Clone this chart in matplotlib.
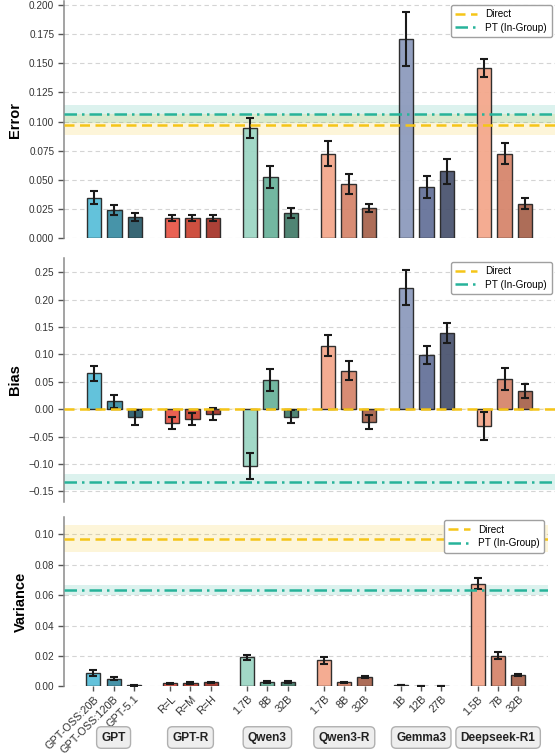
import matplotlib
matplotlib.use("Agg")
import matplotlib.pyplot as plt
import numpy as np
from matplotlib.ticker import FormatStrFormatter, MultipleLocator
from matplotlib.transforms import blended_transform_factory

plt.rcParams['font.family'] = ['Liberation Sans', 'DejaVu Sans']
plt.rcParams['axes.unicode_minus'] = True

# ---- data -------------------------------------------------------------
groups = ["GPT", "GPT-R", "Qwen3", "Qwen3-R", "Gemma3", "Deepseek-R1"]
model_labels = [
    ["GPT-OSS:20B", "GPT-OSS:120B", "GPT-5.1"],
    ["R=L", "R=M", "R=H"],
    ["1.7B", "8B", "32B"],
    ["1.7B", "8B", "32B"],
    ["1B", "12B", "27B"],
    ["1.5B", "7B", "32B"],
]
group_colors = [
    ["#5bbfd9", "#3d8ea5", "#2d5f6e"],
    ["#e8584a", "#cc4636", "#a8372c"],
    ["#9dd6c4", "#6bb39c", "#467e6c"],
    ["#f4a88c", "#d6866d", "#a9654f"],
    ["#8d9bbd", "#66739a", "#4c5571"],
    ["#f4a88c", "#d6866d", "#a9654f"],
]

error_mean = [0.0345, 0.0241, 0.0180, 0.0175, 0.0169, 0.0169,
              0.0943, 0.0524, 0.0218, 0.0725, 0.0464, 0.0258,
              0.1710, 0.0438, 0.0573, 0.1458, 0.0725, 0.0295]
error_err = [0.0055, 0.0040, 0.0037, 0.0026, 0.0026, 0.0026,
             0.0086, 0.0095, 0.0043, 0.0106, 0.0083, 0.0036,
             0.0230, 0.0097, 0.0105, 0.0079, 0.0090, 0.0046]

bias_mean = [0.0657, 0.0146, -0.0152, -0.0255, -0.0188, -0.0097,
             -0.1046, 0.0540, -0.0140, 0.1160, 0.0705, -0.0230,
             0.2219, 0.0997, 0.1390, -0.0304, 0.0553, 0.0334]
bias_err = [0.0137, 0.0120, 0.0134, 0.0115, 0.0110, 0.0110,
            0.0237, 0.0200, 0.0120, 0.0190, 0.0180, 0.0128,
            0.0320, 0.0164, 0.0180, 0.0260, 0.0207, 0.0134]

var_mean = [0.0090, 0.0050, 0.0007, 0.0020, 0.0022, 0.0026,
            0.0190, 0.0028, 0.0030, 0.0172, 0.0026, 0.0059,
            0.0007, 0.0004, 0.0002, 0.0675, 0.0201, 0.0072]
var_err = [0.0020, 0.0010, 0.0002, 0.0004, 0.0004, 0.0004,
           0.0019, 0.0008, 0.0007, 0.0024, 0.0004, 0.0006,
           0.0001, 0.0001, 0.0001, 0.0038, 0.0023, 0.0007]

# reference baselines: (mean, half-width of band)
direct_ref = {"Error": (0.0974, 0.0089), "Bias": (0.0, 0.0015), "Variance": (0.0972, 0.0087)}
pt_ref = {"Error": (0.1063, 0.0077), "Bias": (-0.1331, 0.0152), "Variance": (0.0633, 0.0035)}

# ---- layout -----------------------------------------------------------
W, H = 557, 754
fig = plt.figure(figsize=(W / 100, H / 100), dpi=100)

def box(l, t, r, b):
    return [l / W, 1 - b / H, (r - l) / W, (b - t) / H]

ax_err = fig.add_axes(box(64, 1, 555, 238))
ax_bias = fig.add_axes(box(64, 258, 555, 501.7))
ax_var = fig.add_axes(box(64, 516.7, 547.7, 686.3))

group_step = 3.8
positions = []
for g in range(len(groups)):
    for i in range(3):
        positions.append(g * group_step + (i - 1))
positions = np.array(positions)
flat_colors = [c for cs in group_colors for c in cs]
flat_labels = [m for ms in model_labels for m in ms]

DIRECT_C = "#f5c518"
PT_C = "#27b39a"

panels = [
    (ax_err, "Error", error_mean, error_err, (0, 0.2036), 0.025, "%.3f"),
    (ax_bias, "Bias", bias_mean, bias_err, (-0.169, 0.276), 0.05, "%.2f"),
    (ax_var, "Variance", var_mean, var_err, (0, 0.1116), 0.02, "%.2f"),
]

for ax, name, mean, err, ylim, step, fmt in panels:
    ax.bar(positions, mean, width=0.7, color=flat_colors, alpha=0.95,
           edgecolor=(0.15, 0.15, 0.15, 0.75), linewidth=1.0, zorder=3)
    ax.errorbar(positions, mean, yerr=err, fmt="none", ecolor="#1a1a1a",
                elinewidth=1.5, capsize=3.2, capthick=1.5, zorder=4)

    dm, dw = direct_ref[name]
    pm, pw = pt_ref[name]
    ax.axhspan(dm - dw, dm + dw, color=DIRECT_C, alpha=0.16, lw=0, zorder=1)
    ax.axhspan(pm - pw, pm + pw, color=PT_C, alpha=0.16, lw=0, zorder=1)
    ax.axhline(dm, color=DIRECT_C, ls=(0, (4, 2.2)), lw=1.8, zorder=5, label="Direct")
    ax.axhline(pm, color=PT_C, ls=(0, (5, 2, 1, 2)), lw=1.8, zorder=5, label="PT (In-Group)")

    ax.set_xlim(-2.45, (len(groups) - 1) * group_step + 2.45)
    ax.set_ylim(*ylim)
    ax.yaxis.set_major_locator(MultipleLocator(step))
    ax.yaxis.set_major_formatter(FormatStrFormatter(fmt))
    ax.grid(axis="y", ls=(0, (4, 3)), color="#d4d4d4", lw=0.8, zorder=0)
    ax.set_axisbelow(True)
    for s in ["top", "right", "bottom"]:
        ax.spines[s].set_visible(False)
    ax.spines["left"].set_color("#8a8a8a")
    ax.spines["left"].set_linewidth(1.1)
    ax.tick_params(axis="y", labelsize=7.2, colors="#333333", length=4, width=1,
                   color="#555555", pad=3)
    ax.set_ylabel(name, fontsize=10.5, fontweight="bold", labelpad=5)

    leg = ax.legend(loc="upper right", fontsize=7.2, frameon=True, fancybox=True,
                    framealpha=1, edgecolor="#a0a0a0", handlelength=2.2,
                    borderaxespad=0.35, borderpad=0.45, labelspacing=0.35)
    leg.get_frame().set_linewidth(1.0)

ax_err.set_xticks([])
ax_bias.set_xticks([])
bias_ticks = np.arange(-0.15, 0.2501, 0.05)
ax_bias.set_yticks(bias_ticks)
ax_bias.set_yticklabels([("%.2f" % (v + 0.0)).replace("-0.00", "0.00").replace("-", "\u2212")
                         for v in bias_ticks])

ax_var.set_xticks(positions)
ax_var.set_xticklabels(flat_labels, rotation=45, ha="right", rotation_mode="anchor",
                       fontsize=7.8, color="#333333")
ax_var.tick_params(axis="x", length=3.5, width=1, color="#555555", pad=2)

trans = blended_transform_factory(ax_var.transData, ax_var.transAxes)
for g, name in enumerate(groups):
    ax_var.text(g * group_step, -0.302, name, transform=trans, ha="center", va="center",
                fontsize=8.6, fontweight="bold", color="#222222",
                bbox=dict(boxstyle="round,pad=0.4", facecolor="#eeeeee",
                          edgecolor="#b0b0b0", linewidth=1.0))

fig.savefig("out.png", dpi=100)
